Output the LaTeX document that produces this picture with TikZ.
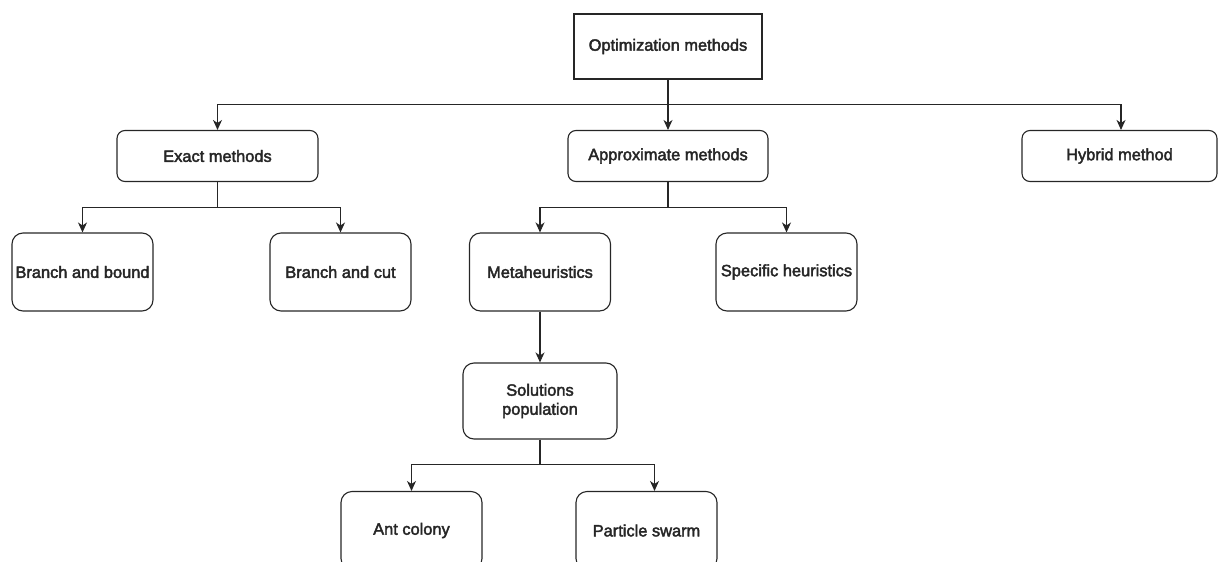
\documentclass[tikz,border=0pt]{standalone}
\usepackage{fontspec}
\setmainfont{Liberation Sans}[FakeBold=2.5]
\usepackage{xcolor}
\usepackage{tikz}
\usetikzlibrary{arrows.meta}

\begin{document}
\begin{tikzpicture}[x=1pt, y=-1pt,
    box/.style={draw=black!85, line width=1.1pt, rounded corners=8pt, align=center,
      inner sep=0pt, text=black!85, font=\fontsize{16.4}{19}\selectfont},
    wide/.style={box, minimum width=200pt, minimum height=51pt},
    tall/.style={box, minimum width=141pt, minimum height=78pt, rounded corners=11pt},
    arr/.style={draw=black!85, line width=1.1pt, -{Stealth[length=10pt, width=9pt, inset=3pt]}},
    fork/.style={draw=black!85, line width=1.1pt}]
  \clip (0,0) rectangle (1218,562);

  % root
  \node[box, sharp corners, minimum width=188pt, minimum height=65pt] (opt) at (668,46.5) {Optimization methods};

  % second level
  \node[wide, minimum width=201pt] (exact) at (217.5,156) {Exact methods};
  \node[wide] (approx) at (668,156) {Approximate methods};
  \node[wide, minimum width=195pt] (hybrid) at (1119.5,156) {Hybrid method};

  % third level
  \node[tall] (bnb) at (82.5,272) {Branch and bound};
  \node[tall] (bnc) at (340.5,272) {Branch and cut};
  \node[tall] (meta) at (540,272) {Metaheuristics};
  \node[tall] (spec) at (786.5,272) {Specific heuristics};

  % population based
  \node[tall, minimum width=154pt, minimum height=76pt] (sol) at (540,401) {Solutions\\population};
  \node[tall] (ant) at (411.5,530.5) {Ant colony};
  \node[tall] (pso) at (646.5,530.5) {Particle swarm};

  % connectors
  \draw[arr] (opt) -- (approx);
  \draw[arr] (opt.south) ++(0,25) -| (exact.north);
  \draw[arr] (opt.south) ++(0,25) -| ([xshift=1.5pt]hybrid.north);

  \draw[fork] (exact.south) -- ++(0,25);
  \draw[arr] (exact.south) ++(0,25) -| (bnb.north);
  \draw[arr] (exact.south) ++(0,25) -| (bnc.north);

  \draw[fork] (approx.south) -- ++(0,25);
  \draw[arr] (approx.south) ++(0,25) -| (meta.north);
  \draw[arr] (approx.south) ++(0,25) -| (spec.north);

  \draw[arr] (meta) -- (sol);

  \draw[fork] (sol.south) -- ++(0,25);
  \draw[arr] (sol.south) ++(0,25) -| (ant.north);
  \draw[arr] (sol.south) ++(0,25) -| ([xshift=8pt]pso.north);
\end{tikzpicture}
\end{document}
